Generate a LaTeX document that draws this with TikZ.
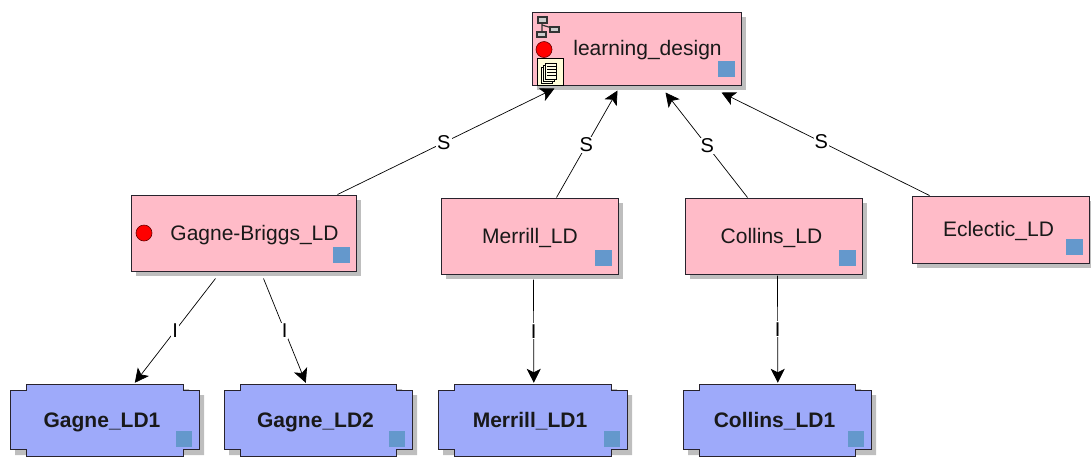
\documentclass[tikz,border=0pt]{standalone}
\usepackage{fontspec}
\setmainfont{Liberation Sans}
\usetikzlibrary{arrows.meta,calc}
\definecolor{pinkfill}{RGB}{255,187,200}
\definecolor{bluefill}{RGB}{158,170,250}
\definecolor{shadowc}{RGB}{190,190,190}
\definecolor{cornerc}{RGB}{100,152,204}
\definecolor{edgec}{RGB}{40,35,45}
\tikzset{
  pinkbox/.style={draw=edgec,line width=1pt,fill=pinkfill,inner sep=0pt,text height=17.5pt,text depth=3pt,font=\fontsize{21}{24}\selectfont,text=black!90},
  bluelabel/.style={inner sep=0pt,text height=17.5pt,text depth=3pt,font=\fontsize{21}{24}\selectfont\bfseries,text=black!90},
  bluepath/.style={draw=edgec,line width=1pt,fill=bluefill},
  shadowbox/.style={fill=shadowc,draw=none},
  cornerbox/.style={fill=cornerc,draw=none},
  reddot/.style={fill=red,draw=red!40!black,line width=.6pt},
  sline/.style={draw=black,line width=.7pt,-{Stealth[length=14pt,width=14pt,inset=3.5pt]}},
  edgelabel/.style={fill=white,inner sep=1pt,font=\fontsize{20}{24}\selectfont},
  iconpart/.style={draw=black!80,fill=black!20,line width=1.2pt},
  docpart/.style={draw=black,fill=white!90!yellow,line width=.7pt}
}
% name, x1, y1, x2, y2, body
\newcommand{\pinknode}[6]{%
  \fill[shadowbox] (#2+5,#3+5) rectangle (#4+5,#5+5);
  \pgfmathsetmacro{\bw}{#4-#2}\pgfmathsetmacro{\bh}{#5-#3}
  \node[pinkbox,minimum width=\bw pt,minimum height=\bh pt] (#1) at ({(#2+#4)/2},{(#3+#5)/2}) {#6};
  \fill[cornerbox] (#4-23,#5-24) rectangle (#4-6,#5-8);
}
% name, x1, x2, text (y range 384--456, clipped by page)
\newcommand{\bluenode}[4]{%
  \fill[shadowbox] (#2+5,390+5) -- (#2+20,390+5) -- (#2+20,384+5) -- (#3-10,384+5) -- (#3-10,390+5) -- (#3+5,390+5) -- (#3+5,450+5) -- (#2+5,450+5) -- cycle;
  \draw[bluepath] (#2,390) -- (#2+16,390) -- (#2+16,384) -- (#3-16,384) -- (#3-16,390) -- (#3,390) -- (#3,449) -- (#3-16,449) -- (#3-16,456) -- (#2+16,456) -- (#2+16,449) -- (#2,449) -- cycle;
  \fill[cornerbox] (#3-23,431) rectangle (#3-7,447);
  \pgfmathsetmacro{\bw}{#3-#2}
  \node[bluelabel,minimum width=\bw pt,minimum height=72pt] (#1) at ({(#2+#3)/2},420) {#4\hspace*{5pt}};
}
\begin{document}
\begin{tikzpicture}[x=1pt,y=-1pt]
\useasboundingbox (0,0) rectangle (1091,456);
\pinknode{ld}{532}{12}{741}{85}{\hspace*{22pt}learning\_design}
\pinknode{gb}{131}{195}{356}{271}{\hspace*{22pt}Gagne-Briggs\_LD}
\pinknode{mer}{441}{198}{618}{274}{\hspace*{1pt}Merrill\_LD}
\pinknode{col}{685}{198}{862}{274}{Collins\_LD\hspace*{4pt}}
\pinknode{ecl}{912}{196}{1089}{263}{Eclectic\_LD\hspace*{4pt}}
\bluenode{g1}{10}{199}{Gagne\_LD1}
\bluenode{g2}{224}{412}{Gagne\_LD2}
\bluenode{m1}{438}{627}{Merrill\_LD1}
\bluenode{c1}{683}{871}{Collins\_LD1}
% icons of learning_design
\draw[black!80,line width=1.2pt] (542,21) -- (542,33) (542,25) -- (552,28);
\draw[iconpart] (538,17) rectangle (547,23);
\draw[iconpart] (550,27) rectangle (559,32);
\draw[iconpart] (537,32) rectangle (546,37);
\filldraw[reddot] (544,49.5) circle (8);
\filldraw[draw=black,fill=white!85!yellow,line width=.8pt] (537,58) rectangle (563,85);
\foreach \d in {0,2,4} {\draw[docpart] (541+\d,67-\d) rectangle (552+\d,83-\d);}
\foreach \yy in {66,69,72,75} {\draw[black,line width=.6pt] (547,\yy) -- (556,\yy);}
\filldraw[reddot] (144,233) circle (8);
% S connectors
\draw[sline] ($(gb.north west)+(207,0)$) -- node[edgelabel,pos=.49] {S} ($(ld.south west)+(23,3)$);
\draw[sline] ($(mer.north west)+(116,0)$) -- node[edgelabel,pos=.49] {S} ($(ld.south west)+(86,5)$);
\draw[sline] ($(col.north west)+(63,0)$) -- node[edgelabel,pos=.49] {S} ($(ld.south west)+(134,7)$);
\draw[sline] ($(ecl.north west)+(18,0)$) -- node[edgelabel,pos=.52] {S} ($(ld.south west)+(190,7)$);
% I connectors
\draw[sline] ($(gb.south west)+(85,7)$) -- node[edgelabel,pos=.5] {I} ($(g1.north west)+(125,-1)$);
\draw[sline] ($(gb.south west)+(133,7)$) -- node[edgelabel,pos=.5] {I} ($(g2.north west)+(82,-1)$);
\draw[sline] ($(mer.south west)+(93,5)$) -- node[edgelabel,pos=.5] {I} ($(m1.north west)+(96,-1)$);
\draw[sline] ($(col.south west)+(93,1)$) -- node[edgelabel,pos=.5] {I} ($(c1.north west)+(95,-1)$);
\end{tikzpicture}
\end{document}
